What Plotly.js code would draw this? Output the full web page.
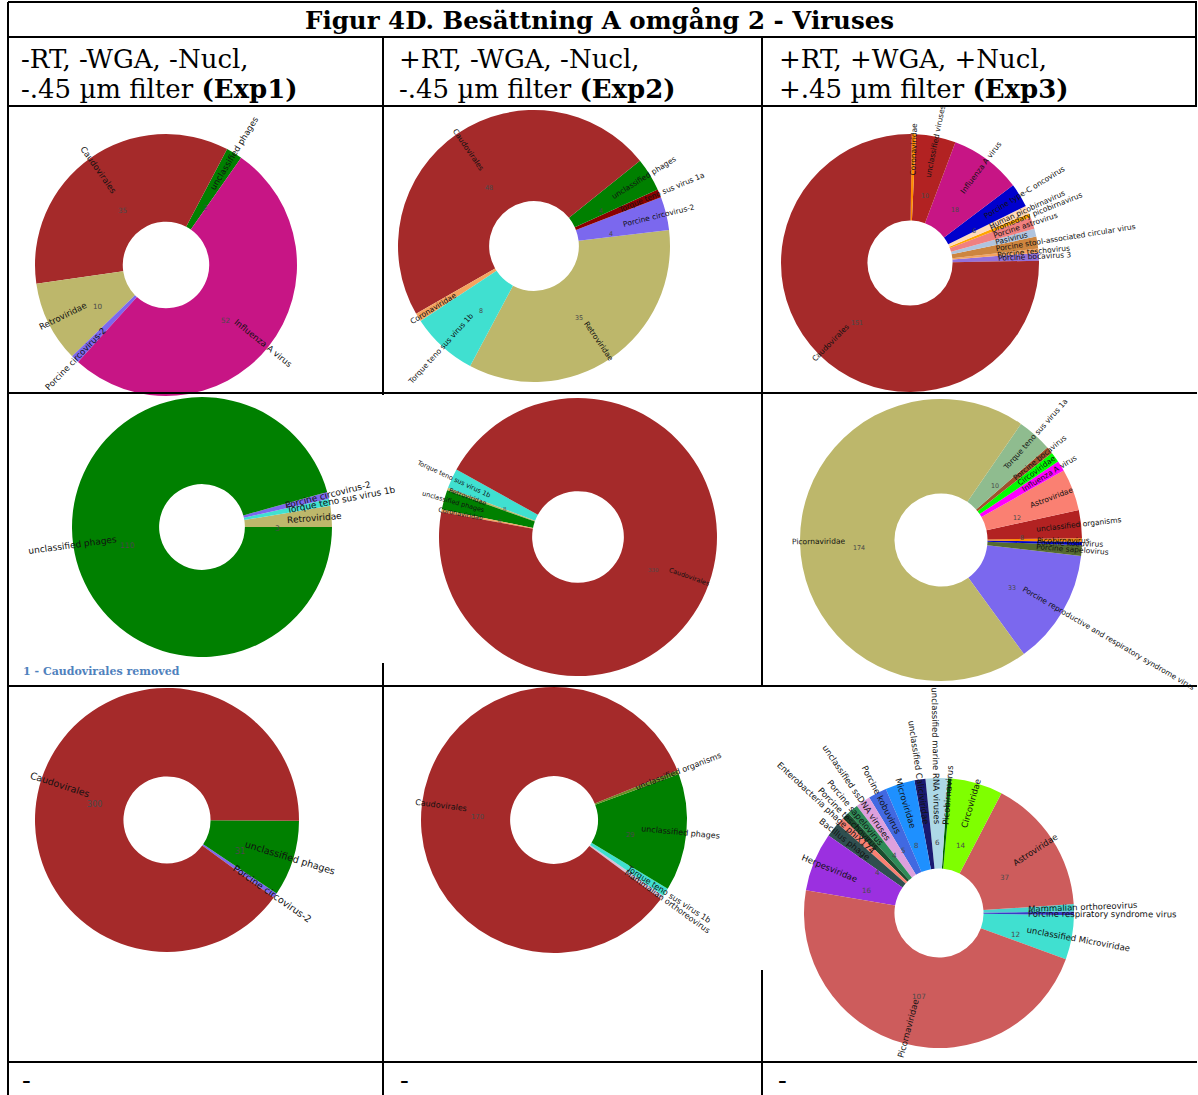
<!DOCTYPE html>
<html>
<head>
<meta charset="utf-8">
<script src="https://cdn.plot.ly/plotly-3.0.1.min.js"></script>
<style>
  html, body { margin: 0; padding: 0; background: #ffffff; }
  #chart { width: 1198px; height: 1095px; }
</style>
</head>
<body>
<div id="chart"></div>
<script>
// ---------- Table text ----------
const pageTitle = 'Figur 4D. Besättning A omgång 2 - Viruses';
const columnConditions = ['-RT, -WGA, -Nucl,', '+RT, -WGA, -Nucl,', '+RT, +WGA, +Nucl,'];
const columnFilters = ['-.45 µm filter ', '-.45 µm filter ', '+.45 µm filter '];
const columnExperiments = ['(Exp1)', '(Exp2)', '(Exp3)'];
const footerMarks = ['-', '-', '-'];
const caudoviralesNote = '1 - Caudovirales removed';

// ---------- Read counts per sample (slice order = counter-clockwise) ----------
// Row 1
const labelsR1E1 = ['unclassified phages', 'Caudovirales', 'Retroviridae', 'Porcine circovirus-2', 'Influenza A virus'];
const valuesR1E1 = [2, 35, 10, 1, 52];

const labelsR1E2 = ['Retroviridae', 'Porcine circovirus-2', 'Torque teno sus virus 1a', 'unclassified phages',
  'Caudovirales', 'Coronaviridae', 'Torque teno sus virus 1b'];
const valuesR1E2 = [35, 4, 1, 4, 48, 1, 8];

const labelsR1E3 = ['Porcine bocavirus 3', 'Porcine teschovirus', 'Porcine stool-associated circular virus',
  'Pasivirus', 'Porcine astrovirus', 'Dromedary picobirnavirus', 'Human picobirnavirus',
  'Porcine type-C oncovirus', 'Influenza A virus', 'unclassified viruses', 'Coronaviridae', 'Caudovirales'];
const valuesR1E3 = [2, 1, 3, 2, 3, 1, 2, 6, 18, 10, 1, 151];

// Row 2 (Caudovirales removed in Exp1)
const labelsR2E1 = ['Retroviridae', 'Torque teno sus virus 1b', 'Porcine circovirus-2', 'unclassified phages'];
const valuesR2E1 = [3, 1, 1, 110];

const labelsR2E2 = ['Torque teno sus virus 1b', 'Retroviridae', 'unclassified phages', 'Coronaviridae', 'Caudovirales'];
const valuesR2E2 = [8, 1, 8, 1, 330];

const labelsR2E3 = ['Porcine reproductive and respiratory syndrome virus', 'Porcine sapelovirus',
  'Porcine kobuvirus', 'Picobirnavirus', 'unclassified organisms', 'Astroviridae', 'Influenza A virus',
  'Circoviridae', 'Porcine bocavirus', 'Torque teno sus virus 1a', 'Picornaviridae'];
const valuesR2E3 = [33, 3, 1, 1, 8, 12, 3, 3, 2, 10, 174];

// Row 3
const labelsR3E1 = ['Porcine circovirus-2', 'unclassified phages', 'Caudovirales'];
const valuesR3E1 = [2, 31, 300];

const labelsR3E2 = ['Mammalian orthoreovirus', 'Torque teno sus virus 1b', 'unclassified phages',
  'unclassified organisms', 'Caudovirales'];
const valuesR3E2 = [1, 2, 29, 1, 170];

const labelsR3E3 = ['unclassified Microviridae', 'Porcine respiratory syndrome virus', 'Mammalian orthoreovirus',
  'Astroviridae', 'Circoviridae', 'Picobirnavirus', 'unclassified marine RNA viruses',
  'unclassified Caliciviridae', 'Microviridae', 'Porcine kobuvirus', 'unclassified ssDNA viruses',
  'Porcine sapelovirus', 'Porcine teschovirus', 'Enterobacteria phage phiX174', 'Bacillus phage',
  'Herpesviridae', 'Picornaviridae'];
const valuesR3E3 = [12, 1, 2, 37, 14, 1, 6, 3, 8, 5, 4, 3, 2, 2, 4, 16, 107];

// ---------- Slice colours ----------
const colorsR1E1 = ['#008000', '#A52A2A', '#BDB76B', '#7B68EE', '#C71585'];
const colorsR1E2 = ['#BDB76B', '#7B68EE', '#8B0000', '#008000', '#A52A2A', '#F4A460', '#40E0D0'];
const colorsR1E3 = ['#9370DB', '#F4A460', '#CD853F', '#B0C4DE', '#F08080', '#FFA500', '#FFDAB9',
  '#0000CD', '#C71585', '#B22222', '#FF8C00', '#A52A2A'];
const colorsR2E1 = ['#BDB76B', '#40E0D0', '#7B68EE', '#008000'];
const colorsR2E2 = ['#40E0D0', '#BDB76B', '#008000', '#F4A460', '#A52A2A'];
const colorsR2E3 = ['#7B68EE', '#556B2F', '#0000CD', '#FF8C00', '#B22222', '#FA8072', '#FF00FF',
  '#00FF00', '#A0522D', '#8FBC8F', '#BDB76B'];
const colorsR3E1 = ['#7B68EE', '#008000', '#A52A2A'];
const colorsR3E2 = ['#D8BFD8', '#40E0D0', '#008000', '#6B8E23', '#A52A2A'];
const colorsR3E3 = ['#40E0D0', '#3A3AC8', '#48D1CC', '#CD5C5C', '#7FFF00', '#006400', '#ADD8E6',
  '#191970', '#1E90FF', '#4169E1', '#DDA0DD', '#2E8B57', '#1B4D2E', '#FA8072', '#2F4F4F',
  '#9B30E0', '#CD5C5C'];

// ---------- Page geometry ----------
const W = 1198, H = 1095;
const HOLE = 0.33;

// Each donut: centre, radius, angle (deg, counter-clockwise from 3 o'clock) where the
// first slice begins, font size of its radial labels, and where those labels start.
const donuts = [
  { labels: labelsR1E1, values: valuesR1E1, colors: colorsR1E1, cx: 166, cy: 265, r: 131, start: 55,    fs: 8.5, r0: 0.68 },
  { labels: labelsR1E2, values: valuesR1E2, colors: colorsR1E2, cx: 534, cy: 246, r: 136, start: 242,   fs: 7.5, r0: 0.68 },
  { labels: labelsR1E3, values: valuesR1E3, colors: colorsR1E3, cx: 910, cy: 263, r: 129, start: 1,     fs: 7.5, r0: 0.68 },
  { labels: labelsR2E1, values: valuesR2E1, colors: colorsR2E1, cx: 202, cy: 527, r: 130, start: 0,     fs: 9,   r0: 0.66 },
  { labels: labelsR2E2, values: valuesR2E2, colors: colorsR2E2, cx: 578, cy: 537, r: 139, start: 151,   fs: 6.5, r0: 0.70 },
  { labels: labelsR2E3, values: valuesR2E3, colors: colorsR2E3, cx: 941, cy: 540, r: 141, start: -54,   fs: 7.5, r0: 0.68 },
  { labels: labelsR3E1, values: valuesR3E1, colors: colorsR3E1, cx: 167, cy: 820, r: 132, start: -36,   fs: 9.5, r0: 0.62 },
  { labels: labelsR3E2, values: valuesR3E2, colors: colorsR3E2, cx: 554, cy: 820, r: 133, start: -36.5, fs: 8,   r0: 0.66 },
  { labels: labelsR3E3, values: valuesR3E3, colors: colorsR3E3, cx: 939, cy: 913, r: 135, start: -20,   fs: 8.5, r0: 0.66 }
];

const px = x => x / W;
const py = y => 1 - y / H;
const clamp01 = v => Math.max(0, Math.min(1, v));

const measureCtx = document.createElement('canvas').getContext('2d');
function textWidth(t, fs) {
  measureCtx.font = fs + 'px "DejaVu Sans"';
  return measureCtx.measureText(t).width;
}

const traces = [];
const annotations = [];

donuts.forEach(d => {
  const total = d.values.reduce((a, b) => a + b, 0);
  const firstSpan = 360 * d.values[0] / total;
  // plotly: first slice lies clockwise of `rotation`; the rest follow counter-clockwise
  let rot = 90 - d.start - firstSpan;
  while (rot < -360) rot += 360;
  while (rot > 360) rot -= 360;

  traces.push({
    type: 'pie',
    labels: d.labels,
    values: d.values,
    sort: false,
    direction: 'counterclockwise',
    rotation: rot,
    hole: HOLE,
    textinfo: 'none',
    hoverinfo: 'label+value',
    marker: { colors: d.colors, line: { width: 0 } },
    showlegend: false,
    domain: {
      x: [clamp01(px(d.cx - d.r)), clamp01(px(d.cx + d.r))],
      y: [clamp01(py(d.cy + d.r)), clamp01(py(d.cy - d.r))]
    }
  });

  // radial labels and counts, placed from the same cumulative angles
  let acc = d.start;
  d.values.forEach((v, i) => {
    const span = 360 * v / total;
    const mid = acc + span / 2;
    acc += span;
    let a = ((mid % 360) + 360) % 360;
    if (a > 180) a -= 360;
    let ang = (a >= -90 && a <= 90) ? -a : 180 - a;
    if (ang > 180) ang -= 360;
    const th = mid * Math.PI / 180;
    const w = textWidth(d.labels[i], d.fs);
    const rc = d.r0 * d.r + w / 2;
    annotations.push({
      xref: 'paper', yref: 'paper',
      x: px(d.cx + rc * Math.cos(th)), y: py(d.cy - rc * Math.sin(th)),
      xanchor: 'center', yanchor: 'middle',
      text: d.labels[i], textangle: ang, showarrow: false,
      font: { family: 'DejaVu Sans', size: d.fs, color: '#111111' }
    });
    if (span >= 6) {
      const rn = 0.58 * d.r;
      annotations.push({
        xref: 'paper', yref: 'paper',
        x: px(d.cx + rn * Math.cos(th)), y: py(d.cy - rn * Math.sin(th) + d.fs * 0.9),
        xanchor: 'center', yanchor: 'middle',
        text: String(v), showarrow: false,
        font: { family: 'DejaVu Sans', size: d.fs * 0.85, color: '#4a4a4a' }
      });
    }
  });
});

// ---------- Table text ----------
annotations.push({
  xref: 'paper', yref: 'paper', x: px(599), y: py(20), xanchor: 'center', yanchor: 'middle',
  text: '<b>' + pageTitle + '</b>', showarrow: false,
  font: { family: 'DejaVu Serif', size: 24.5, color: '#000' }
});
const colX = [19, 397, 777];
const footX = [20, 398, 776];
columnConditions.forEach((c, i) => {
  annotations.push({
    xref: 'paper', yref: 'paper', x: px(colX[i]), y: py(59), xanchor: 'left', yanchor: 'middle',
    text: c, showarrow: false, font: { family: 'DejaVu Serif', size: 26, color: '#000' }
  });
  annotations.push({
    xref: 'paper', yref: 'paper', x: px(colX[i]), y: py(89), xanchor: 'left', yanchor: 'middle',
    text: columnFilters[i] + '<b>' + columnExperiments[i] + '</b>', showarrow: false,
    font: { family: 'DejaVu Serif', size: 26, color: '#000' }
  });
  annotations.push({
    xref: 'paper', yref: 'paper', x: px(footX[i]), y: py(1080), xanchor: 'left', yanchor: 'middle',
    text: footerMarks[i], showarrow: false, font: { family: 'DejaVu Serif', size: 26, color: '#000' }
  });
});
annotations.push({
  xref: 'paper', yref: 'paper', x: px(21), y: py(671), xanchor: 'left', yanchor: 'middle',
  text: '<b>' + caudoviralesNote + '</b>', showarrow: false,
  font: { family: 'DejaVu Serif', size: 11, color: '#4F81BD' }
});

// ---------- Table rules ----------
const rule = (x0, y0, x1, y1) => ({
  type: 'line', xref: 'paper', yref: 'paper', layer: 'above',
  x0: px(x0), y0: py(y0), x1: px(x1), y1: py(y1),
  line: { color: '#000', width: 2 }
});
const shapes = [
  rule(8, 2, 1197, 2),
  rule(8, 37, 1197, 37),
  rule(8, 106, 1197, 106),
  rule(8, 393, 1197, 393),
  rule(8, 686, 1197, 686),
  rule(8, 1062, 1197, 1062),
  rule(8, 2, 8, 1095),
  rule(383, 37, 383, 395),
  rule(383, 663, 383, 1095),
  rule(762, 37, 762, 686),
  rule(762, 970, 762, 1095),
  rule(1196, 2, 1196, 106)
];

Plotly.newPlot('chart', traces, {
  width: W, height: H,
  margin: { l: 0, r: 0, t: 0, b: 0 },
  paper_bgcolor: '#ffffff',
  plot_bgcolor: '#ffffff',
  showlegend: false,
  annotations: annotations,
  shapes: shapes
}, { staticPlot: true });
</script>
</body>
</html>
